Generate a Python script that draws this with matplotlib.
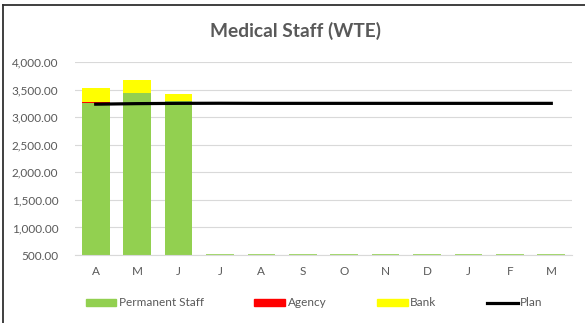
import numpy as np
import matplotlib.pyplot as plt
from matplotlib.patches import Patch
from matplotlib.lines import Line2D
from matplotlib.ticker import FuncFormatter

plt.rcParams['font.family'] = ['Lato', 'DejaVu Sans']

# Monthly medical staff WTE, April to March
months = ['A', 'M', 'J', 'J', 'A', 'S', 'O', 'N', 'D', 'J', 'F', 'M']
permanent = [3265, 3432, 3290, 0, 0, 0, 0, 0, 0, 0, 0, 0]
agency = [15, 0, 0, 0, 0, 0, 0, 0, 0, 0, 0, 0]
bank = [248, 242, 130, 0, 0, 0, 0, 0, 0, 0, 0, 0]
plan = [3235, 3245, 3250, 3252, 3250, 3250, 3250, 3250, 3250, 3250, 3250, 3250]

GREEN = '#92d050'
RED = '#ff0000'
YELLOW = '#ffff00'
TXT = '#595959'

fig = plt.figure(figsize=(5.85, 3.23), dpi=100)
ax = fig.add_axes([75 / 585, 1 - 255 / 323, 497 / 585, 193 / 323])

x = np.arange(len(months))
perm = np.array(permanent)
agc = np.array(agency)
bnk = np.array(bank)
w = 0.67
ax.bar(x, perm, w, color=GREEN, zorder=2)
ax.bar(x, agc, w, bottom=perm, color=RED, zorder=2)
ax.bar(x, bnk, w, bottom=perm + agc, color=YELLOW, zorder=2)
ax.plot(x, plan, color='black', lw=2.3, zorder=3)

# zero-value months show as a thin green stroke along the axis floor
ax.hlines([500] * int((perm == 0).sum()), x[perm == 0] - w / 2, x[perm == 0] + w / 2,
          color=GREEN, lw=1.2, zorder=2)

ax.set_ylim(500, 4000)
ax.set_xlim(-0.5, len(months) - 0.5)
ax.set_yticks(np.arange(500, 4001, 500))
ax.yaxis.set_major_formatter(FuncFormatter(lambda v, p: f'{v:,.2f}'))
ax.set_xticks(x)
ax.set_xticklabels(months)
ax.grid(axis='y', color='#d9d9d9', lw=0.8, zorder=0)
ax.set_axisbelow(True)
for s in ['top', 'right', 'left']:
    ax.spines[s].set_visible(False)
ax.spines['bottom'].set_color('#d9d9d9')
ax.tick_params(axis='both', length=0, colors=TXT, labelsize=8.5)
ax.tick_params(axis='y', pad=12)
ax.tick_params(axis='x', pad=8)

fig.text(296 / 585, 1 - 31 / 323, 'Medical Staff (WTE)', ha='center', va='center',
         fontsize=13.8, fontweight='bold', color=TXT)

handles = [Patch(color=GREEN), Patch(color=RED), Patch(color=YELLOW),
           Line2D([], [], color='black', lw=2.3)]
labels = ['Permanent Staff', 'Agency', 'Bank', 'Plan']
fig.legend(handles, labels, loc='center left', bbox_to_anchor=(75 / 585, 1 - 303 / 323),
           ncol=4, frameon=False, fontsize=8.5, labelcolor=TXT,
           handlelength=2.6, handleheight=0.5, handletextpad=0.2, columnspacing=4.3)

# frame edges along the top and left of the chart
fig.add_artist(Line2D([3 / 585, 1], [1 - 4.5 / 323] * 2, color='#303030', lw=1.3))
fig.add_artist(Line2D([3 / 585] * 2, [0, 1 - 4.5 / 323], color='#303030', lw=1.3))

fig.savefig('out.png', dpi=100)
